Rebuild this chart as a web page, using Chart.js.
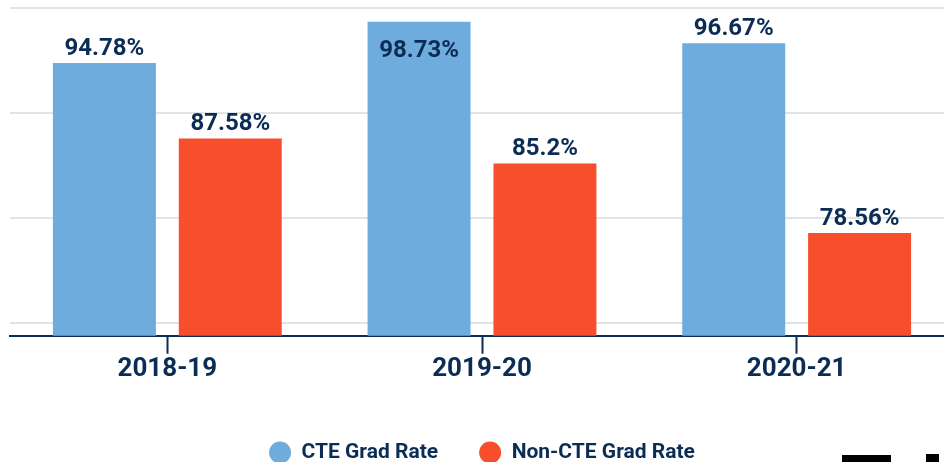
<!DOCTYPE html>
<html>
<head>
<meta charset="utf-8">
<script src="https://cdn.jsdelivr.net/npm/chart.js@4.4.1/dist/chart.umd.min.js"></script>
<style>
  html, body { margin: 0; padding: 0; background: #fff; overflow: hidden; width: 944px; height: 462px; }
  #wrap { position: relative; width: 944px; height: 462px; overflow: hidden; }
  canvas { position: absolute; left: 0; top: 0; }
  .logo { position: absolute; background: #000; }
</style>
</head>
<body>
<div id="wrap">
  <canvas id="grad-chart" width="966" height="473"></canvas>
  <div class="logo" style="left:842px; top:455px; width:49px; height:7px;"></div>
  <div class="logo" style="left:926px; top:454px; width:13px; height:8px;"></div>
</div>
<script>
const years = ['2018-19', '2019-20', '2020-21'];
const cteRate = [94.78, 98.73, 96.67];
const nonCteRate = [87.58, 85.2, 78.56];
const yTicks = [70, 80, 90, 100];

const navy = '#0b2d55';
const font = 'Roboto, "Noto Sans", sans-serif';

// value labels above each bar (inside when there is no room above)
const valueLabels = {
    id: 'valueLabels',
    afterDatasetsDraw(chart) {
        const ctx = chart.ctx;
        ctx.save();
        ctx.font = '700 24px ' + font;
        ctx.fillStyle = navy;
        ctx.textAlign = 'center';
        ctx.textBaseline = 'alphabetic';
        chart.data.datasets.forEach((ds, i) => {
            chart.getDatasetMeta(i).data.forEach((bar, j) => {
                const text = ds.data[j] + '%';
                const inside = bar.y - 26 < chart.chartArea.top;
                ctx.fillText(text, bar.x, inside ? bar.y + 35 : bar.y - 8);
            });
        });
        ctx.restore();
    }
};

const ctx = document.getElementById('grad-chart').getContext('2d');

new Chart(ctx, {
    type: 'bar',
    data: {
        labels: years,
        datasets: [{
            label: 'CTE Grad Rate',
            data: cteRate,
            backgroundColor: '#6eacdd',
            borderWidth: 0
        }, {
            label: 'Non-CTE Grad Rate',
            data: nonCteRate,
            backgroundColor: '#f74f2c',
            borderWidth: 0
        }]
    },
    options: {
        responsive: false,
        animation: false,
        categoryPercentage: 0.8,
        barPercentage: 0.818,
        layout: {
            padding: { left: 10, right: 12, top: 0, bottom: 0 }
        },
        scales: {
            x: {
                z: 1,
                grid: {
                    display: true,
                    drawOnChartArea: false,
                    drawTicks: true,
                    tickLength: 18,
                    tickWidth: 2,
                    tickColor: navy,
                    offset: false
                },
                border: { display: true, color: navy, width: 2 },
                ticks: {
                    color: navy,
                    padding: 0,
                    font: { family: font, size: 26, weight: '700' }
                },
                afterFit(scale) { scale.height = 65.3; }
            },
            y: {
                min: 68.74,
                max: 100.81,
                afterBuildTicks(scale) {
                    scale.ticks = yTicks.map(v => ({ value: v }));
                },
                grid: { color: '#e3e3e3', lineWidth: 2, drawTicks: false },
                border: { display: false },
                ticks: { display: false }
            }
        },
        plugins: {
            tooltip: { enabled: false },
            legend: {
                position: 'bottom',
                labels: {
                    usePointStyle: true,
                    pointStyle: 'circle',
                    boxHeight: 15.5,
                    pointStyleWidth: 22,
                    padding: 41,
                    color: navy,
                    font: { family: font, size: 21, weight: '700' }
                }
            }
        }
    },
    plugins: [valueLabels]
});
</script>
</body>
</html>
